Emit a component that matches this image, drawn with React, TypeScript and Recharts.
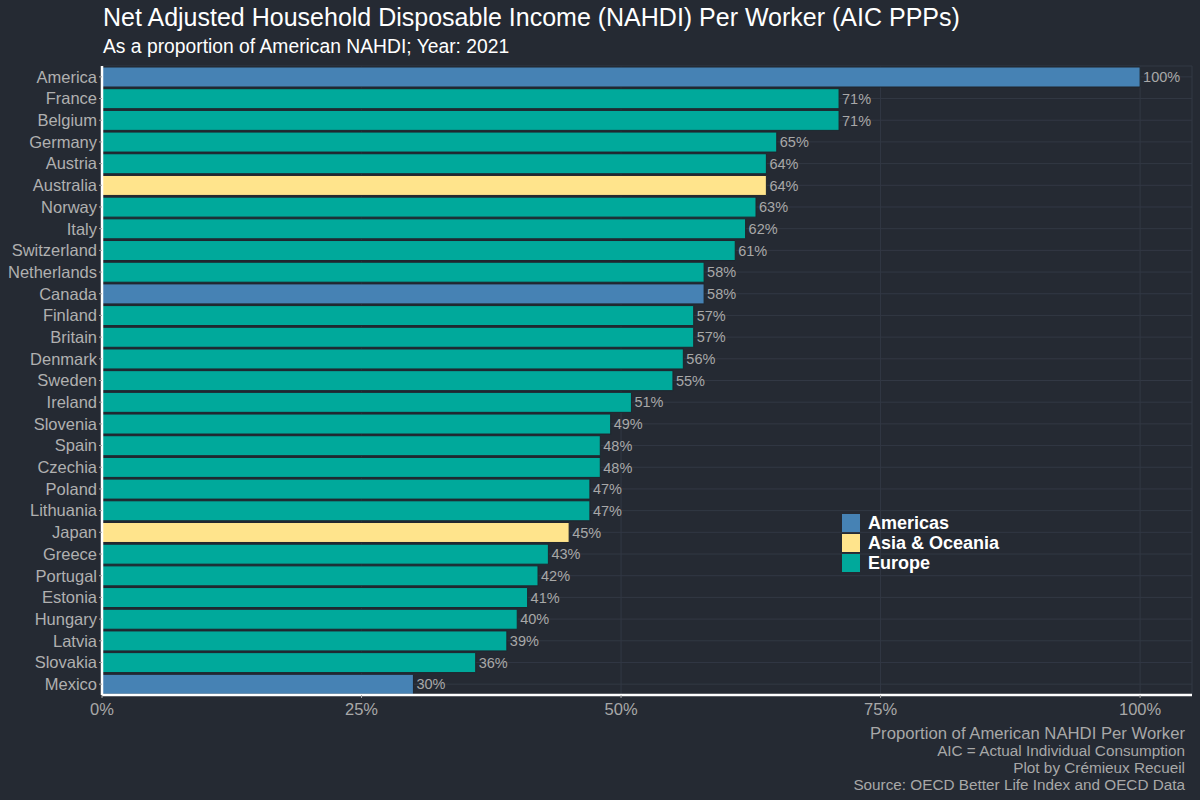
import React from 'react';
import { BarChart, Bar, XAxis, YAxis, CartesianGrid, Cell, LabelList } from 'recharts';

const countries = ['America','France','Belgium','Germany','Austria','Australia','Norway','Italy','Switzerland','Netherlands','Canada','Finland','Britain','Denmark','Sweden','Ireland','Slovenia','Spain','Czechia','Poland','Lithuania','Japan','Greece','Portugal','Estonia','Hungary','Latvia','Slovakia','Mexico'];
const values = [100,71,71,65,64,64,63,62,61,58,58,57,57,56,55,51,49,48,48,47,47,45,43,42,41,40,39,36,30];
const regions = ['Americas','Europe','Europe','Europe','Europe','Asia & Oceania','Europe','Europe','Europe','Europe','Americas','Europe','Europe','Europe','Europe','Europe','Europe','Europe','Europe','Europe','Europe','Asia & Oceania','Europe','Europe','Europe','Europe','Europe','Europe','Americas'];
const regionNames = ['Americas','Asia & Oceania','Europe'];
const regionColors = ['#4682b4','#ffe48c','#00a99b'];
const xTicks = [0,25,50,75,100];

const data = countries.map((c, i) => ({ country: c, value: values[i], region: regions[i] }));
const colorOf = (r: string) => regionColors[regionNames.indexOf(r)];

const BG = '#252a33';
const FONT = '"Liberation Sans", Arial, sans-serif';

export default function App() {
  return (
    <div style={{ position: 'absolute', left: 0, top: 0, width: 1200, height: 800, background: BG, fontFamily: FONT }}>
      <div style={{ position: 'absolute', left: 103, top: 3, fontSize: 25, color: '#ffffff', whiteSpace: 'nowrap' }}>
        Net Adjusted Household Disposable Income (NAHDI) Per Worker (AIC PPPs)
      </div>
      <div style={{ position: 'absolute', left: 103, top: 36, fontSize: 19.3, color: '#ffffff', whiteSpace: 'nowrap' }}>
        As a proportion of American NAHDI; Year: 2021
      </div>
      <BarChart
        width={1200}
        height={800}
        data={data}
        layout="vertical"
        margin={{ top: 66, right: 8, bottom: 75, left: 0 }}
        barCategoryGap={1}
        style={{ fontFamily: FONT }}
      >
        <CartesianGrid stroke="#323844" strokeWidth={1} />
        <XAxis
          type="number"
          domain={[0, 105]}
          ticks={xTicks}
          tickFormatter={(v: number) => `${v}%`}
          tick={{ fill: '#a8a8a8', fontSize: 16.5, dy: 3 }}
          axisLine={{ stroke: '#ffffff', strokeWidth: 2.5 }}
          tickLine={{ stroke: '#aaaaaa' }}
          tickSize={3}
          height={30}
          allowDataOverflow
        />
        <YAxis
          type="category"
          dataKey="country"
          width={102}
          interval={0}
          tick={{ fill: '#b0b0b0', fontSize: 16.5 }}
          axisLine={{ stroke: '#ffffff', strokeWidth: 2.5 }}
          tickLine={{ stroke: '#aaaaaa' }}
          tickSize={3}
        />
        <Bar dataKey="value" isAnimationActive={false} stroke="#1f252d" strokeWidth={1}>
          {data.map((d, i) => (
            <Cell key={i} fill={colorOf(d.region)} />
          ))}
          <LabelList
            dataKey="value"
            position="right"
            offset={3}
            formatter={(v: number) => `${v}%`}
            style={{ fill: '#a8a8a8', fontSize: 14.5 }}
          />
        </Bar>
      </BarChart>
      <div style={{ position: 'absolute', left: 842, top: 513 }}>
        {regionNames.map((r, i) => (
          <div key={r} style={{ display: 'flex', alignItems: 'center', height: 20 }}>
            <div style={{ width: 18, height: 18, background: regionColors[i], marginRight: 8 }} />
            <span style={{ color: '#ffffff', fontWeight: 'bold', fontSize: 18 }}>{r}</span>
          </div>
        ))}
      </div>
      <div style={{ position: 'absolute', right: 15, top: 725, textAlign: 'right', color: '#a8a8a8', lineHeight: '17px', whiteSpace: 'nowrap' }}>
        <div style={{ fontSize: 16.7 }}>Proportion of American NAHDI Per Worker</div>
        <div style={{ fontSize: 15.3 }}>AIC = Actual Individual Consumption</div>
        <div style={{ fontSize: 15.3 }}>Plot by Crémieux Recueil</div>
        <div style={{ fontSize: 15.3 }}>Source: OECD Better Life Index and OECD Data</div>
      </div>
    </div>
  );
}
